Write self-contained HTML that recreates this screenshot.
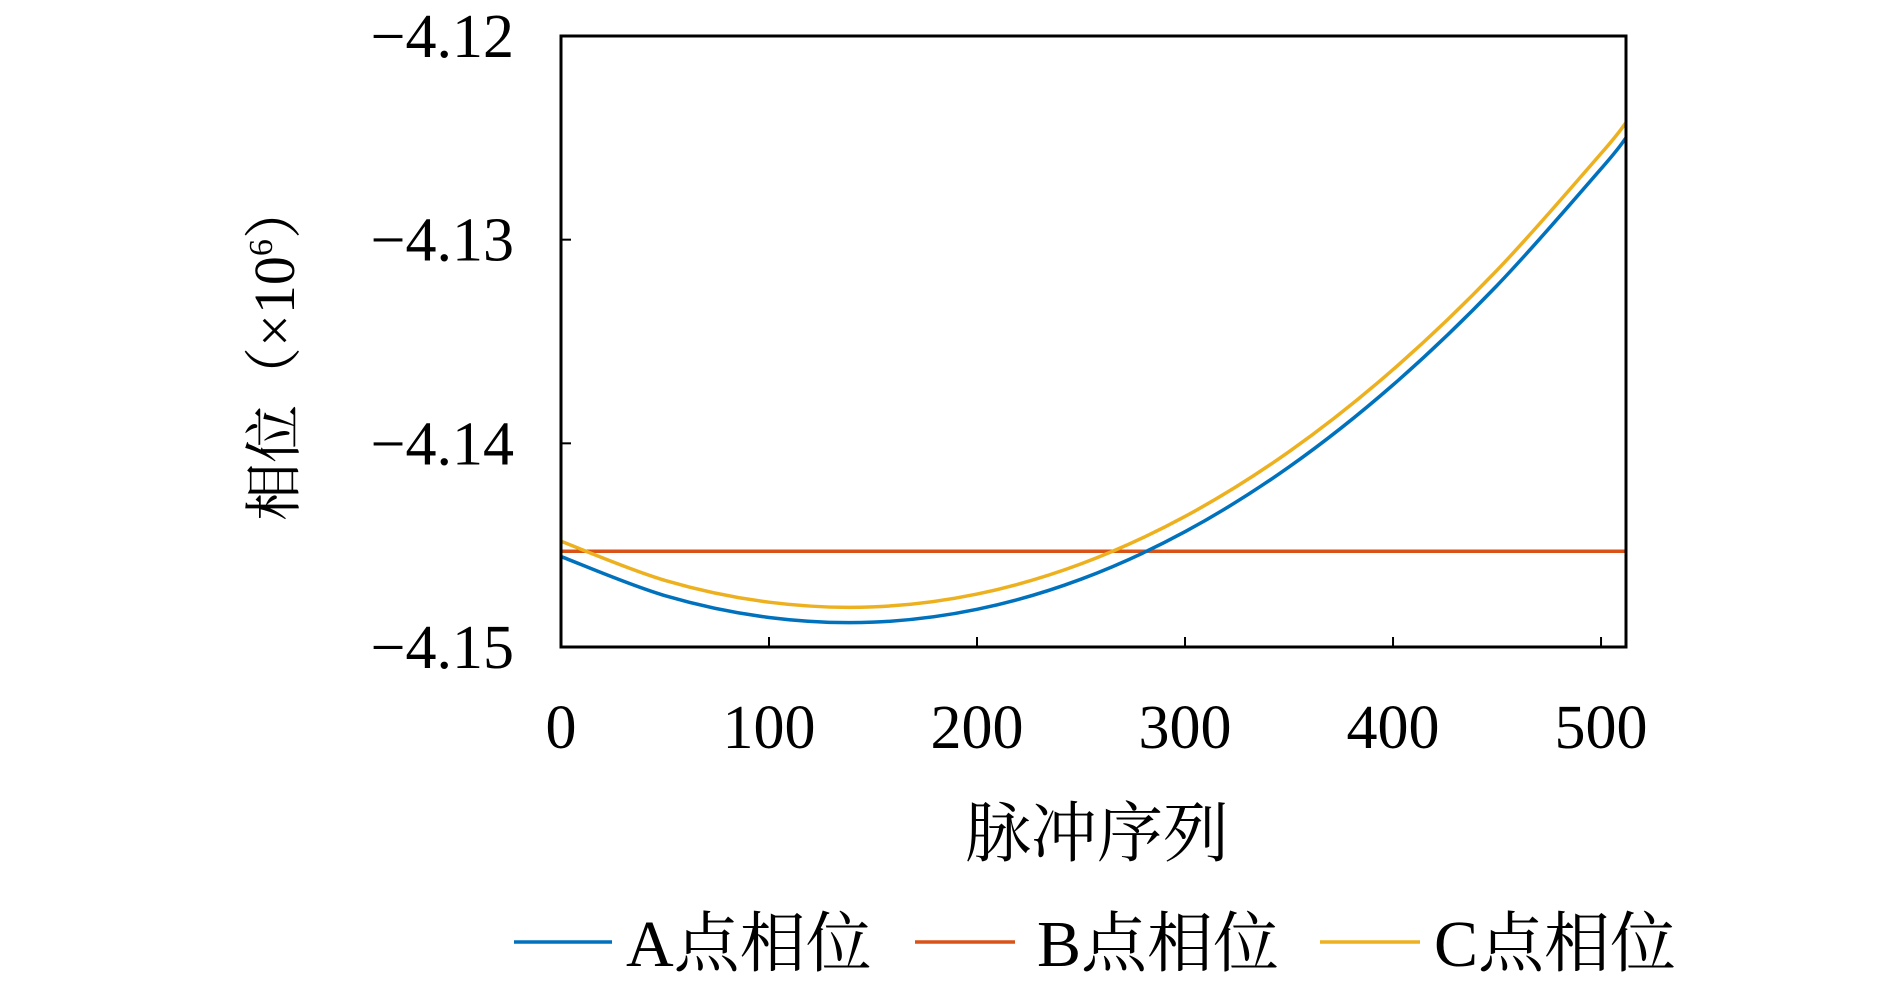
<!DOCTYPE html>
<html><head><meta charset="utf-8">
<style>
html,body{margin:0;padding:0;background:#fff;}
svg text{font-family:"Liberation Serif","Noto Serif CJK SC",serif;fill:#000;}
</style></head>
<body>
<svg id="chart" width="1890" height="981" viewBox="0 0 1890 981" xmlns="http://www.w3.org/2000/svg">
<g id="plot"></g>
<text x="1097" y="856" font-size="66" text-anchor="middle">脉冲序列</text>
<text transform="translate(294,351) rotate(-90)" font-size="58" text-anchor="middle">相位（×10<tspan font-size="34" dy="-22">6</tspan><tspan dy="22">）</tspan></text>
<g>
  <line x1="514" y1="942" x2="612" y2="942" stroke="#0072BD" stroke-width="3.5"/>
  <text x="626" y="966" font-size="66">A点相位</text>
  <line x1="915" y1="942" x2="1015" y2="942" stroke="#D95319" stroke-width="3.5"/>
  <text x="1037" y="966" font-size="66">B点相位</text>
  <line x1="1320" y1="942" x2="1420" y2="942" stroke="#EDB120" stroke-width="3.5"/>
  <text x="1434" y="966" font-size="66">C点相位</text>
</g>
</svg>
<script>
const xSamples = [0,50,100,150,200,250,300,350,400,450,500,512];
const seriesA = [-4.14556,-4.14748,-4.14855,-4.14878,-4.14815,-4.14667,-4.14434,-4.14116,-4.13713,-4.13225,-4.12652,-4.12500];
const seriesC = [-4.14481,-4.14673,-4.14780,-4.14803,-4.14740,-4.14592,-4.14359,-4.14041,-4.13638,-4.13150,-4.12577,-4.12425];
const seriesB = [-4.1453,-4.1453];
const xBX = [0,512];
const xTicks = [0,100,200,300,400,500];
const yTicks = [-4.12,-4.13,-4.14,-4.15];
const yTickLabels = ["\u22124.12","\u22124.13","\u22124.14","\u22124.15"];

const L=561,R=1626,T=36,B=647;
const xMin=0,xMax=512,yMin=-4.15,yMax=-4.12;
const sx=v=>L+(v-xMin)/(xMax-xMin)*(R-L);
const sy=v=>B-(v-yMin)/(yMax-yMin)*(B-T);
const NS="http://www.w3.org/2000/svg";
const g=document.getElementById('plot');
function mk(tag,attrs){const e=document.createElementNS(NS,tag);for(const k in attrs)e.setAttribute(k,attrs[k]);g.appendChild(e);return e;}

function smooth(xs,ys){
  const p=xs.map((x,i)=>[sx(x),sy(ys[i])]);
  let d=`M${p[0][0]},${p[0][1]}`;
  for(let i=0;i<p.length-1;i++){
    const p0=p[Math.max(0,i-1)],p1=p[i],p2=p[i+1],p3=p[Math.min(p.length-1,i+2)];
    const c1=[p1[0]+(p2[0]-p0[0])/6,p1[1]+(p2[1]-p0[1])/6];
    const c2=[p2[0]-(p3[0]-p1[0])/6,p2[1]-(p3[1]-p1[1])/6];
    d+=` C${c1[0]},${c1[1]} ${c2[0]},${c2[1]} ${p2[0]},${p2[1]}`;
  }
  return d;
}

const b=mk('line',{x1:sx(xBX[0]),y1:sy(seriesB[0]),x2:sx(xBX[1]),y2:sy(seriesB[1]),stroke:'#D95319','stroke-width':3.5});


const a=mk('path',{d:smooth(xSamples,seriesA),fill:'none',stroke:'#0072BD','stroke-width':3.5});


const c=mk('path',{d:smooth(xSamples,seriesC),fill:'none',stroke:'#EDB120','stroke-width':3.5});



const frame=mk('rect',{x:L,y:T,width:R-L,height:B-T,fill:'none',stroke:'#000','stroke-width':3});



xTicks.forEach(v=>{
  const t=mk('line',{x1:sx(v),y1:B,x2:sx(v),y2:B-10,stroke:'#000','stroke-width':2});
  
  
  const lb=mk('text',{x:sx(v),y:748,'font-size':62,'text-anchor':'middle'});
  lb.textContent=String(v);
  
  
});
yTicks.forEach((v,i)=>{
  const t=mk('line',{x1:L,y1:sy(v),x2:L+10,y2:sy(v),stroke:'#000','stroke-width':2});
  
  
  const lb=mk('text',{x:514,y:sy(v)+21,'font-size':62,'text-anchor':'end'});
  lb.textContent=yTickLabels[i];
  
  
});
</script>
</body></html>
